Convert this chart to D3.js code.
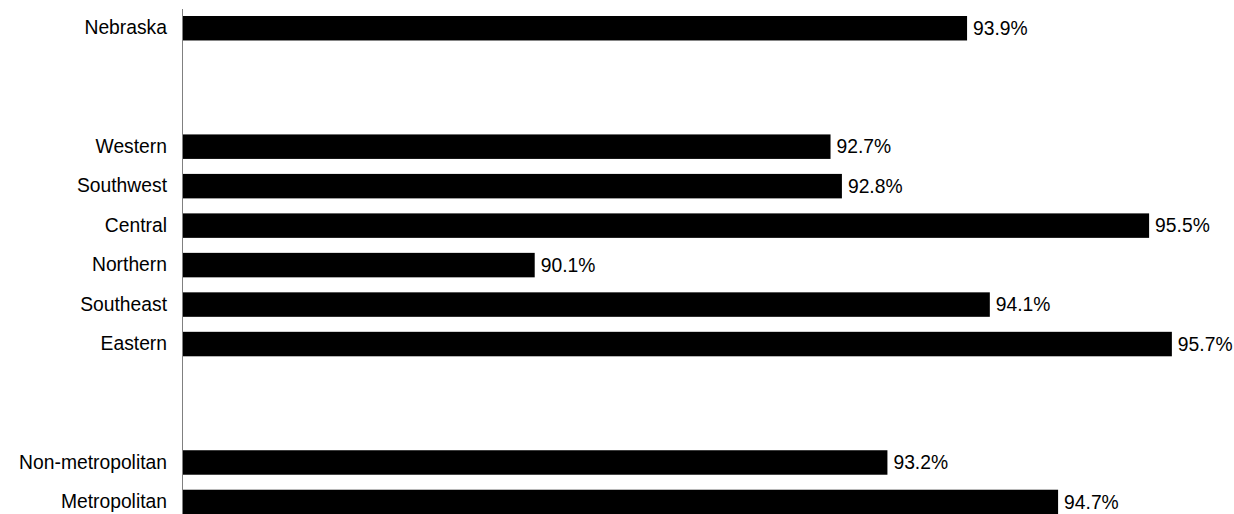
<!DOCTYPE html>
<html>
<head>
<meta charset="utf-8">
<script src="https://cdn.jsdelivr.net/npm/d3@7"></script>
<style>
  body { margin: 0; background: #fff; }
  svg { display: block; }
  text { font-family: "Liberation Sans", Arial, sans-serif; font-size: 19.3px; fill: #000; }
</style>
</head>
<body>
<svg id="chart" width="1234" height="514"></svg>
<script>
// rows, top to bottom; empty names are spacer rows
const categories = ["Nebraska", "", "", "Western", "Southwest", "Central", "Northern",
  "Southeast", "Eastern", "", "", "Non-metropolitan", "Metropolitan"];
const values = [93.9, null, null, 92.7, 92.8, 95.5, 90.1, 94.1, 95.7, null, null, 93.2, 94.7];

const width = 1234, height = 514;
const svg = d3.select("#chart");

const x = d3.scaleLinear().domain([87, 96]).range([182, 1206]);
const y = d3.scaleBand()
  .domain(d3.range(categories.length))
  .range([8.5, 521.7])
  .paddingInner(0.38)
  .paddingOuter(0.19);

const rows = categories.map((name, i) => ({ name, value: values[i], i }));
const bars = rows.filter(d => d.value != null);

// bars
svg.selectAll(".bar")
  .data(bars)
  .enter().append("rect")
  .attr("class", "bar")
  .attr("x", x(87))
  .attr("y", d => y(d.i))
  .attr("width", d => x(d.value) - x(87))
  .attr("height", y.bandwidth())
  .attr("fill", "#000");

// value labels
svg.selectAll(".val")
  .data(bars)
  .enter().append("text")
  .attr("class", "val")
  .attr("x", d => x(d.value) + 6)
  .attr("y", d => y(d.i) + y.bandwidth() / 2)
  .attr("dy", "0.35em")
  .text(d => d.value.toFixed(1) + "%");

// category axis
const axis = svg.append("g")
  .attr("transform", `translate(${x(87)},0)`)
  .call(d3.axisLeft(y).tickSize(0).tickPadding(15).tickFormat(i => categories[i]));
axis.select(".domain").attr("stroke", "#808080").attr("stroke-width", 1);
axis.attr("font-size", null).attr("font-family", null);
</script>
</body>
</html>
